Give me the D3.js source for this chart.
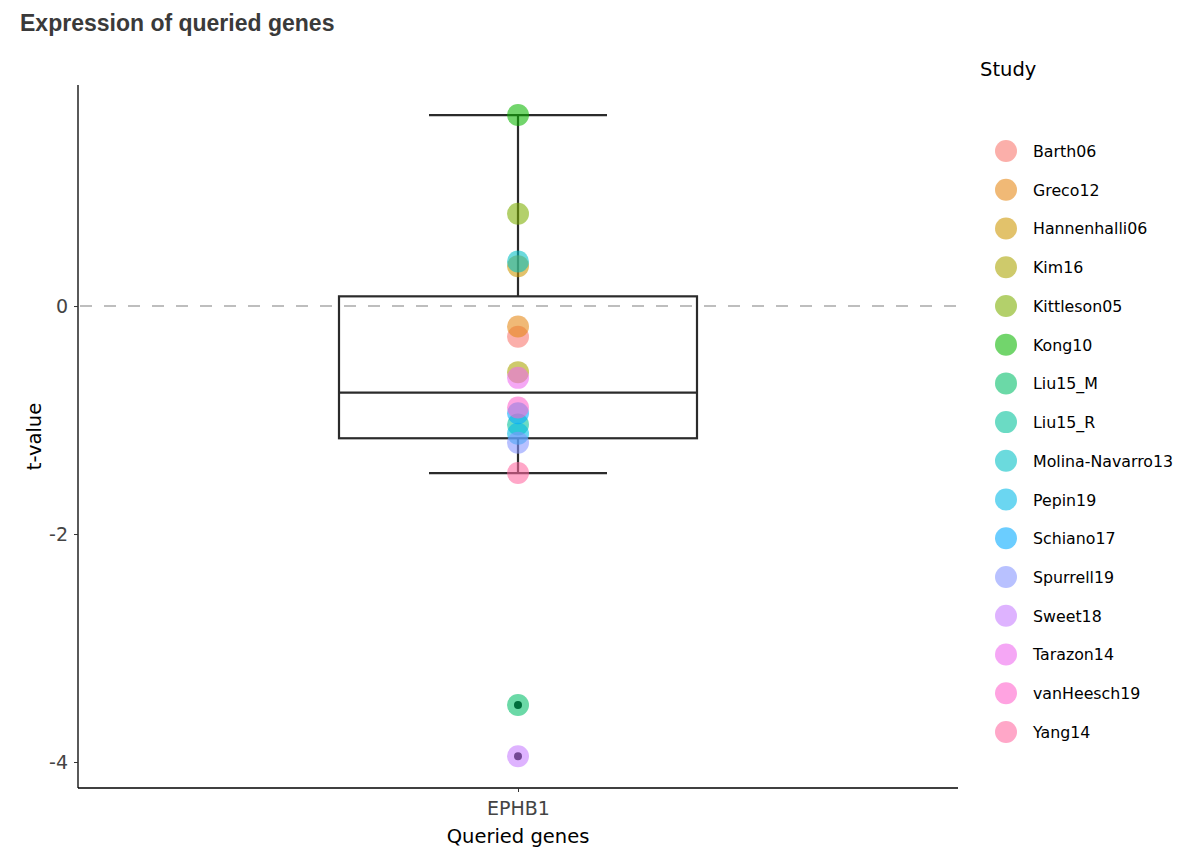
<!DOCTYPE html>
<html>
<head>
<meta charset="utf-8">
<script src="https://cdn.jsdelivr.net/npm/d3@7"></script>
<style>
  body { margin: 0; background: #fff; }
  svg { display: block; font-family: "DejaVu Sans", Verdana, sans-serif; }
</style>
</head>
<body>
<svg id="chart" width="1200" height="859"></svg>
<script>
// data
const gene = "EPHB1";
const studies = ["Barth06", "Greco12", "Hannenhalli06", "Kim16", "Kittleson05", "Kong10",
  "Liu15_M", "Liu15_R", "Molina-Navarro13", "Pepin19", "Schiano17", "Spurrell19",
  "Sweet18", "Tarazon14", "vanHeesch19", "Yang14"];
const tValues = [-0.27, -0.18, 0.35, -0.58, 0.81, 1.675,
  -3.5, -1.04, 0.39, -1.12, -0.94, -1.2,
  -3.95, -0.63, -0.89, -1.465];
const yTicks = [-4, -2, 0];
const palette = ["#F8766D", "#E68613", "#CD9600", "#ABA300", "#7CAE00", "#0CB702",
  "#00BE67", "#00C19A", "#00BFC4", "#00B8E7", "#00A9FF", "#8494FF",
  "#C77CFF", "#ED68ED", "#FF61CC", "#FF68A1"];

const svg = d3.select("#chart");
const W = 1200, H = 859;
const margin = { top: 85, right: 242, bottom: 71, left: 78 };
const innerW = W - margin.left - margin.right;
const innerH = H - margin.top - margin.bottom;

const g = svg.append("g")
  .attr("transform", `translate(${margin.left},${margin.top})`);

const x = d3.scalePoint().domain([gene]).range([0, innerW]).padding(0.5);
const y = d3.scaleLinear().domain([-4.228, 1.939]).range([innerH, 0]);
const colour = d3.scaleOrdinal().domain(studies).range(palette);

// box stats: median of halves for quartiles, 1.5 IQR whiskers
const sorted = tValues.slice().sort(d3.ascending);
const half = Math.floor(sorted.length / 2);
const q1 = d3.median(sorted.slice(0, half));
const q3 = d3.median(sorted.slice(sorted.length - half));
const med = d3.median(sorted);
const iqr = q3 - q1;
const lo = d3.min(sorted.filter(v => v >= q1 - 1.5 * iqr));
const hi = d3.max(sorted.filter(v => v <= q3 + 1.5 * iqr));
const outliers = sorted.filter(v => v < lo || v > hi);

const cx = x(gene);
const boxHalf = 179, capHalf = 89;
const boxStroke = "#2b2b2b";

// whiskers
g.append("line")
  .attr("x1", cx).attr("x2", cx)
  .attr("y1", y(hi)).attr("y2", y(q3))
  .attr("stroke", boxStroke).attr("stroke-width", 2.2);
g.append("line")
  .attr("x1", cx).attr("x2", cx)
  .attr("y1", y(q1)).attr("y2", y(lo))
  .attr("stroke", boxStroke).attr("stroke-width", 2.2);
[hi, lo].forEach(v => {
  g.append("line")
    .attr("x1", cx - capHalf).attr("x2", cx + capHalf)
    .attr("y1", y(v)).attr("y2", y(v))
    .attr("stroke", boxStroke).attr("stroke-width", 2.2);
});

// box
g.append("rect")
  .attr("x", cx - boxHalf).attr("width", boxHalf * 2)
  .attr("y", y(q3)).attr("height", y(q1) - y(q3))
  .attr("fill", "none")
  .attr("stroke", boxStroke).attr("stroke-width", 2.2);
g.append("line")
  .attr("x1", cx - boxHalf).attr("x2", cx + boxHalf)
  .attr("y1", y(med)).attr("y2", y(med))
  .attr("stroke", boxStroke).attr("stroke-width", 2.2);

// zero line
g.append("line")
  .attr("x1", 0).attr("x2", innerW)
  .attr("y1", y(0)).attr("y2", y(0))
  .attr("stroke", "#bebebe").attr("stroke-width", 2)
  .attr("stroke-dasharray", "12,12")
  .attr("transform", "translate(2,0)");

// outlier dots
g.selectAll(".outlier")
  .data(outliers)
  .join("circle")
  .attr("class", "outlier")
  .attr("cx", cx).attr("cy", d => y(d))
  .attr("r", 4)
  .attr("fill", "#000");

// points
g.selectAll(".pt")
  .data(studies)
  .join("circle")
  .attr("class", "pt")
  .attr("cx", cx)
  .attr("cy", (d, i) => y(tValues[i]))
  .attr("r", 11)
  .attr("fill", d => colour(d))
  .attr("fill-opacity", 0.58);

// axes
const yAxis = g.append("g")
  .call(d3.axisLeft(y).tickValues(yTicks).tickSize(4).tickPadding(6).tickFormat(d3.format("d")));
yAxis.select(".domain").attr("stroke", "#000").attr("stroke-width", 1.3)
  .attr("d", `M-0,${innerH}V0`);
yAxis.selectAll("line").attr("stroke", "#333");
yAxis.selectAll("text")
  .attr("fill", "#444")
  .style("font-size", "19px")
  .style("font-family", "DejaVu Sans, Verdana, sans-serif")
  .text(d => d < 0 ? "-" + Math.abs(d) : d);

const xAxis = g.append("g")
  .attr("transform", `translate(0,${innerH})`)
  .call(d3.axisBottom(x).tickSize(4).tickPadding(10));
xAxis.select(".domain").attr("stroke", "#000").attr("stroke-width", 1.3)
  .attr("d", `M0,0H${innerW}`);
xAxis.selectAll("line").attr("stroke", "#333");
xAxis.selectAll("text")
  .attr("fill", "#444")
  .style("font-size", "19px")
  .style("font-family", "DejaVu Sans, Verdana, sans-serif");

// axis titles
svg.append("text")
  .attr("x", margin.left + cx).attr("y", 843)
  .attr("text-anchor", "middle")
  .style("font-size", "19.5px")
  .attr("fill", "#000")
  .text("Queried genes");
svg.append("text")
  .attr("transform", `translate(41,${margin.top + innerH / 2}) rotate(-90)`)
  .attr("text-anchor", "middle")
  .style("font-size", "19.5px")
  .attr("fill", "#000")
  .text("t-value");

// title
svg.append("text")
  .attr("x", 20).attr("y", 31)
  .style("font-family", "Liberation Sans, Arial, Helvetica, sans-serif")
  .style("font-size", "23px")
  .style("font-weight", 700)
  .attr("fill", "#3a3a3a")
  .text("Expression of queried genes");

// legend
const leg = svg.append("g").attr("transform", "translate(980,0)");
leg.append("text")
  .attr("x", 0).attr("y", 76)
  .style("font-size", "19.5px")
  .attr("fill", "#000")
  .text("Study");
const item = leg.selectAll(".item")
  .data(studies)
  .join("g")
  .attr("class", "item")
  .attr("transform", (d, i) => `translate(0,${151 + i * 38.73})`);
item.append("circle")
  .attr("cx", 26).attr("cy", 0).attr("r", 11)
  .attr("fill", d => colour(d))
  .attr("fill-opacity", 0.58);
item.append("text")
  .attr("x", 53).attr("y", 6)
  .style("font-size", "15.8px")
  .attr("fill", "#000")
  .text(d => d);
</script>
</body>
</html>
